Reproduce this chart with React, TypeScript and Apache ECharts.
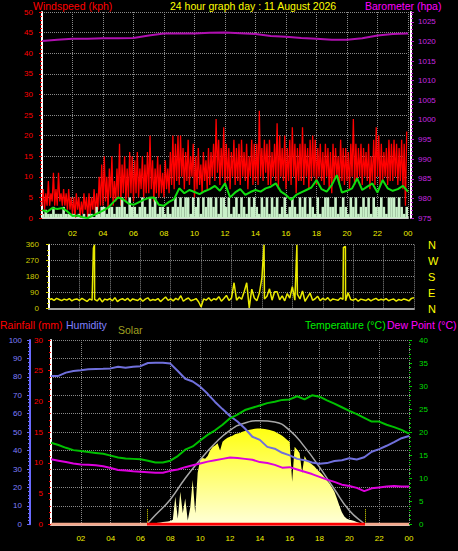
import React, { useEffect, useRef } from 'react';
import * as echarts from 'echarts';

const FONT = '"Liberation Sans", Arial, sans-serif';

// ---- Panel 1: wind (10-min highs / lows of the gust trace) & barometer (hourly) ----
const windGustHigh = [
  7, 6, 9, 6, 11, 7, 11, 6, 7, 6, 7, 5,
  5, 6, 5, 4, 6, 5,
  6, 5, 7, 6, 10, 13,
  15, 10, 12, 15, 9, 12,
  18, 13, 15, 12, 16, 15,
  14, 16, 12, 15, 13, 16,
  20, 14, 12, 15, 13, 11,
  14, 12, 16, 20, 18, 20,
  20, 17, 16, 19, 15, 18,
  15, 17, 13, 16, 14, 17,
  16, 18, 24, 19, 17, 22,
  18, 17, 16, 19, 17, 18,
  19, 16, 18, 15, 19, 18,
  18, 26, 17, 19, 18, 19,
  16, 18, 23, 20, 17, 20,
  17, 19, 22, 18, 17, 18,
  22, 18, 17, 19, 20, 19,
  17, 18, 16, 18, 17, 16,
  18, 17, 15, 19, 17, 17,
  16, 18, 24, 18, 17, 18,
  17, 16, 18, 15, 19, 22,
  20, 18, 16, 17, 19, 18,
  19, 18, 17, 19, 18, 21,
];
const windGustLow = [
  3, 2, 3, 3, 4, 3, 3, 4, 3, 3, 2, 2,
  1, 0, 2, 0, 1, 2,
  0, 1, 2, 1, 2, 3,
  3, 4, 2, 5, 3, 4,
  5, 3, 6, 4, 5, 6,
  4, 6, 5, 7, 5, 6,
  6, 7, 4, 6, 5, 6,
  5, 7, 6, 8, 7, 9,
  8, 10, 7, 9, 8, 10,
  5, 7, 8, 6, 9, 7,
  8, 10, 9, 11, 8, 10,
  8, 9, 7, 10, 8, 9,
  8, 10, 9, 7, 10, 8,
  9, 8, 10, 9, 11, 8,
  8, 10, 9, 7, 10, 9,
  7, 9, 8, 10, 6, 9,
  9, 8, 10, 7, 9, 10,
  8, 10, 9, 8, 10, 7,
  6, 9, 10, 8, 9, 8,
  9, 7, 10, 8, 9, 10,
  8, 10, 9, 7, 9, 8,
  10, 8, 9, 10, 8, 9,
  9, 10, 8, 9, 7, 3,
];
const windSpeed = [
  1, 2, 1, 1, 2.7, 1, 1, 1, 2.7, 1, 1, 1,
  1, 0, 1, 0, 1, 0,
  1, 1, 0, 2.7, 1, 2.7,
  2.7, 1, 2.7, 2.7, 1, 2.7,
  2.7, 5, 2.7, 1, 5, 2.7,
  2.7, 1, 2.7, 5, 2.7, 1,
  5, 2.7, 5, 1, 2.7, 2.7,
  1, 2.7, 1, 2.7, 5, 2.7,
  5, 2.7, 5, 5, 1, 5,
  2.7, 5, 1, 5, 2.7, 5,
  5, 2.7, 5, 1, 5, 5,
  2.7, 5, 1, 2.7, 5, 1,
  5, 2.7, 1, 5, 2.7, 5,
  2.7, 1, 5, 2.7, 5, 1,
  5, 2.7, 5, 1, 2.7, 5,
  1, 2.7, 5, 2.7, 1, 5,
  2.7, 5, 1, 5, 2.7, 1,
  5, 1, 2.7, 5, 5, 2.7,
  2.7, 5, 1, 2.7, 5, 2.7,
  1, 5, 2.7, 5, 1, 2.7,
  5, 2.7, 5, 1, 5, 2.7,
  2.7, 5, 2.7, 1, 5, 5,
  5, 2.7, 5, 2.7, 1, 2.7,
];
// 20-minute average wind
const windAvg = [
  1.9, 1.5, 2.4, 2.2, 2.4, 1.6, 0.5, 0.6, 0.2, 0, 0.6, 1.2,
  1.8, 2.5, 3.8, 5.0, 4.5, 3.5, 3.2, 3.8, 4.4, 4.9, 5.0, 3.2,
  3.0, 3.9, 4.6, 7.2, 6.0, 6.8, 6.3, 5.8, 6.5, 7.0, 7.8, 6.6,
  8.4, 5.0, 6.2, 7.0, 5.6, 6.3, 6.8, 6.4, 7.2, 7.6, 8.4, 6.4,
  5.6, 4.4, 5.6, 6.2, 6.8, 7.4, 9.2, 7.0, 6.4, 8.0, 10.4, 6.2,
  6.6, 7.2, 9.6, 6.8, 7.6, 8.4, 6.2, 9.2, 7.2, 6.6, 7.0, 7.8,
  6.4,
];
const baroHourly = [
  1020.1, 1020.4, 1020.7, 1020.7, 1020.8, 1020.8, 1020.9, 1021.5, 1022.0, 1022.0,
  1022.0, 1022.2, 1022.3, 1022.1, 1021.9, 1021.4, 1021.2, 1020.9, 1020.7, 1020.4,
  1020.4, 1020.8, 1021.5, 1021.9, 1022.0,
];

// ---- Panel 2: wind direction (10-min) plus short spikes ----
const windDir = [
  50, 56, 47, 58, 52, 45,
  54, 48, 57, 44, 52, 55,
  46, 58, 50, 41, 55, 48,
  52, 44, 60, 38, 54, 49,
  57, 45, 62, 40, 51, 56,
  47, 59, 43, 55, 50, 46,
  58, 42, 54, 61, 45, 52,
  48, 57, 40, 53, 66, 47,
  55, 44, 58, 49, 73, 42,
  53, 60, 45, 50, 57, 39,
  10, 55, 48, 62, 44, 56,
  50, 68, 42, 57, 75, 46,
  60, 146, 48, 66, 53, 95,
  146, 5, 110, 60, 45, 88,
  174, 55, 70, 112, 48, 95,
  95, 50, 72, 44, 85, 60,
  124, 48, 80, 55, 100, 42,
  65, 88, 47, 56, 70, 45,
  58, 49, 62, 44, 55, 51,
  47, 60, 53, 45, 90, 52,
  48, 56, 42, 54, 50, 46,
  55, 44, 52, 58, 47, 53,
  49, 57, 45, 51, 54, 43,
  52, 47, 55, 50, 44, 58,
  62,
];
const dirSpikes: [number, number][] = [
  [2.92, 340], [2.99, 360], [14.14, 360], [16.3, 360], [19.36, 345], [19.49, 350],
];
const compass: Record<number, string> = { 0: 'N', 90: 'E', 180: 'S', 270: 'W', 360: 'N' };

// ---- Panel 3: half-hourly temperature / dew point / humidity ----
const humidity = [
  80.5, 80.5, 82.3, 83.2, 83.6, 84.1, 84.3, 84.4, 84.6, 85.5, 85.0, 85.5, 85.8,
  87.5, 87.7, 87.7, 87.2, 83.2, 79.0, 77.5, 74.7, 70.8, 66.4, 62.5, 58.8,
  55.8, 52.0, 47.5, 45.8, 42.0, 41.0, 38.8, 37.4, 35.5, 34.8, 33.5, 32.8,
  33.2, 34.3, 34.8, 35.8, 35.2, 36.4, 39.4, 40.8, 42.6, 44.6, 46.7, 47.9,
];
const temperature = [
  17.7, 17.2, 16.6, 16.1, 15.9, 15.7, 15.5, 15.3, 14.9, 14.5, 14.3, 14.2, 14.1,
  13.8, 13.4, 13.4, 13.8, 14.8, 16.2, 16.9, 18.2, 19.4, 20.4, 21.6, 23.0,
  23.8, 24.8, 25.3, 25.8, 26.3, 26.6, 27.0, 27.1, 27.8, 27.1, 28.0, 27.7,
  26.9, 26.2, 25.4, 24.6, 23.9, 23.1, 22.3, 22.3, 21.6, 21.1, 20.5, 19.7,
];
const dewPoint = [
  14.1, 13.8, 13.5, 13.2, 13.0, 12.9, 12.8, 12.6, 12.2, 11.8, 11.7, 11.5, 11.4,
  11.3, 11.2, 11.2, 11.6, 11.9, 12.4, 12.8, 13.2, 13.6, 13.9, 14.2, 14.5,
  14.4, 14.2, 14.0, 13.5, 13.3, 12.9, 12.3, 12.4, 11.9, 11.4, 10.9, 10.3,
  9.7, 9.2, 8.6, 8.3, 7.9, 7.2, 7.8, 8.0, 8.2, 8.3, 8.2, 8.2,
];
const rainfall = [0, 0, 0, 0, 0, 0, 0, 0, 0, 0, 0, 0, 0, 0, 0, 0, 0, 0, 0, 0, 0, 0, 0, 0, 0];
// 10-minute solar radiation (W/m²)
const solar = [
  0, 0, 0, 0, 0, 0, 0, 0, 0, 0, 0, 0, 0, 0, 0, 0, 0, 0,
  0, 0, 0, 0, 0, 0, 0, 0, 0, 0, 0, 0, 0, 0, 0, 0, 0, 0,
  0, 0, 0, 2, 4, 5,
  6, 8, 10, 12, 14, 15,
  18, 25, 150, 30, 177, 60,
  140, 20, 90, 240, 60, 280,
  350, 360, 355, 370, 400, 420,
  428, 440, 400, 448, 460, 470,
  475, 480, 488, 492, 496, 502,
  506, 510, 513, 516, 518, 520,
  520, 519, 517, 515, 512, 508,
  503, 496, 488, 480, 470, 458,
  448, 231, 421, 405, 387, 278,
  370, 345, 335, 325, 313, 298,
  285, 272, 255, 238, 222, 200,
  177, 140, 100, 65, 42, 30,
  25, 22, 18, 12, 8, 5,
  3, 0, 0, 0, 0, 0, 0, 0, 0, 0, 0, 0, 0, 0, 0, 0, 0, 0, 0,
];
const solarMaxHours = [6.42, 7, 8, 9, 10, 11, 12, 13, 14, 15, 16, 17, 18, 19, 20, 21, 21.07];
const solarMaxValues = [0, 50, 135, 250, 350, 440, 510, 550, 562, 555, 510, 420, 310, 190, 75, 3, 0];
const sunTimes = [6.42, 21.07];

const hourLabel = (v: number) => (v === 0 ? '' : String(v % 24).padStart(2, '0'));

export default function App() {
  const ref = useRef<HTMLDivElement>(null);
  useEffect(() => {
    if (!ref.current) return;
    const chart = echarts.init(ref.current, undefined, { renderer: 'svg' });
    const dotted = { type: 'dotted' as const, color: '#8a8a8a', width: 1 };
    const yAx = (o: any) => ({
      type: 'value',
      axisLine: { show: true, lineStyle: { color: '#ffffff', width: 2 } },
      axisTick: { show: true, length: 3 },
      minorTick: { show: true, splitNumber: 5, length: 2 },
      splitLine: { show: false },
      axisLabel: { fontSize: 8, fontFamily: FONT, margin: 8 },
      ...o,
    });
    const xAx = (o: any) => ({
      type: 'value',
      min: 0,
      max: 24,
      interval: 2,
      axisTick: { show: false },
      splitLine: { show: true, lineStyle: dotted },
      ...o,
    });

    const dirData = windDir
      .map((v, i) => [i / 6, v] as [number, number])
      .concat(dirSpikes)
      .sort((a, b) => a[0] - b[0]);

    const gustData: [number, number][] = [];
    windGustLow.forEach((lo, i) => {
      gustData.push([i / 6, lo]);
      gustData.push([i / 6 + 1 / 12, windGustHigh[i]]);
    });

    const text = (t: string, x: number, y: number, fill: string) => ({
      type: 'text',
      x,
      y,
      style: { text: t, fill, font: `10.5px ${FONT}`, align: 'left', verticalAlign: 'middle' },
    });

    const option: any = {
      backgroundColor: '#000000',
      animation: false,
      textStyle: { fontFamily: FONT },
      grid: [
        { left: 42, top: 12, width: 366, height: 206 },
        { left: 49, top: 244.7, width: 365, height: 64 },
        { left: 51, top: 340, width: 358, height: 184.3 },
      ],
      xAxis: [
        xAx({
          gridIndex: 0,
          offset: 3,
          axisLine: { show: true, lineStyle: { color: '#d0d0d0', width: 2 } },
          axisLabel: {
            color: '#f0f000', fontSize: 8, fontFamily: FONT, showMinLabel: false, margin: 8, formatter: hourLabel,
          },
        }),
        xAx({
          gridIndex: 1,
          axisLine: { show: true, lineStyle: { color: '#a0a0a0', width: 2 } },
          axisLabel: { show: false },
        }),
        xAx({
          gridIndex: 2,
          offset: 4,
          axisLine: { show: true, lineStyle: { color: '#d0d0d0', width: 2 } },
          axisLabel: {
            color: '#f0f000', fontSize: 8, fontFamily: FONT, showMinLabel: false, margin: 6, formatter: hourLabel,
          },
        }),
      ],
      yAxis: [
        yAx({
          gridIndex: 0, position: 'left', min: 0, max: 50, interval: 5,
          axisTick: { show: true, length: 3, lineStyle: { color: '#ff0000' } },
          minorTick: { show: true, splitNumber: 5, length: 2, lineStyle: { color: '#ff0000' } },
          axisLabel: { color: '#ff0000', fontSize: 8, fontFamily: FONT, margin: 9 },
          splitLine: { show: true, lineStyle: dotted },
        }),
        yAx({
          gridIndex: 0, position: 'right', offset: 3, min: 975, max: 1027.5, interval: 5,
          axisTick: { show: true, length: 3, lineStyle: { color: '#c020d0' } },
          minorTick: { show: true, splitNumber: 5, length: 2, lineStyle: { color: '#c020d0' } },
          axisLabel: {
            color: '#c828e0', fontSize: 8, fontFamily: FONT, margin: 7, showMaxLabel: false,
            formatter: (v: number) => String(v),
          },
        }),
        yAx({
          gridIndex: 1, position: 'left', min: 0, max: 360, interval: 90,
          axisTick: { show: true, length: 3, lineStyle: { color: '#d8d800' } },
          minorTick: { show: true, splitNumber: 3, length: 2, lineStyle: { color: '#d8d800' } },
          axisLabel: { color: '#cccc00', fontSize: 8, fontFamily: FONT, margin: 10 },
          splitLine: { show: true, lineStyle: dotted },
        }),
        {
          type: 'value', gridIndex: 1, position: 'right', min: 0, max: 360, interval: 90,
          axisLine: { show: false }, axisTick: { show: false }, splitLine: { show: false },
          axisLabel: {
            color: '#ffff00', fontSize: 11, fontFamily: FONT, margin: 14,
            formatter: (v: number) => compass[v] ?? '',
          },
        },
        yAx({
          gridIndex: 2, position: 'left', min: 0, max: 30, interval: 5,
          axisTick: { show: true, length: 3, lineStyle: { color: '#ff0000' } },
          minorTick: { show: true, splitNumber: 5, length: 2, lineStyle: { color: '#ff0000' } },
          axisLabel: { color: '#ff0000', fontSize: 8, fontFamily: FONT, margin: 8 },
        }),
        yAx({
          gridIndex: 2, position: 'left', offset: 21, min: 0, max: 100, interval: 10,
          axisLine: { show: true, lineStyle: { color: '#6a6aff', width: 2 } },
          axisTick: { show: true, length: 3, lineStyle: { color: '#6a6aff' } },
          minorTick: { show: true, splitNumber: 5, length: 2, lineStyle: { color: '#6a6aff' } },
          axisLabel: { color: '#7f7fff', fontSize: 8, fontFamily: FONT, margin: 8 },
          splitLine: { show: true, lineStyle: dotted },
        }),
        yAx({
          gridIndex: 2, position: 'right', min: 0, max: 40, interval: 5,
          axisLine: { show: false },
          axisTick: { show: true, length: 3, lineStyle: { color: '#00cc00' } },
          minorTick: { show: true, splitNumber: 5, length: 2, lineStyle: { color: '#00cc00' } },
          axisLabel: { color: '#00dd00', fontSize: 8, fontFamily: FONT, margin: 10 },
        }),
        { type: 'value', gridIndex: 2, min: 0, max: 1000, show: false },
      ],
      visualMap: [
        {
          type: 'piecewise', show: false, seriesIndex: 10, dimension: 0,
          pieces: [
            { lt: sunTimes[0], color: '#f4a88c' },
            { gte: sunTimes[0], lte: sunTimes[1], color: '#ff0000' },
            { gt: sunTimes[1], color: '#f4a88c' },
          ],
        },
      ],
      series: [
        {
          name: 'Gust', type: 'line', xAxisIndex: 0, yAxisIndex: 0, symbol: 'none', z: 2,
          data: gustData,
          lineStyle: { color: '#ff0000', width: 1.3 },
        },
        {
          name: 'Speed', type: 'bar', xAxisIndex: 0, yAxisIndex: 0, z: 3, barWidth: 2.6,
          data: windSpeed.map((v, i) => [i / 6 + 1 / 12, v]),
          itemStyle: { color: '#c8f0c8' },
        },
        {
          name: 'Average', type: 'line', xAxisIndex: 0, yAxisIndex: 0, symbol: 'none', z: 4,
          data: windAvg.map((v, i) => [i / 3, v]),
          lineStyle: { color: '#11dd11', width: 2 },
        },
        {
          name: 'Barometer', type: 'line', xAxisIndex: 0, yAxisIndex: 1, symbol: 'none', z: 5,
          data: baroHourly.map((v, i) => [i, v]),
          lineStyle: { color: '#b010b0', width: 2 },
        },
        {
          name: 'Direction', type: 'line', xAxisIndex: 1, yAxisIndex: 2, symbol: 'none', z: 3,
          data: dirData,
          lineStyle: { color: '#e8e800', width: 1.5 },
        },
        {
          name: 'Solar', type: 'line', xAxisIndex: 2, yAxisIndex: 7, symbol: 'none', z: 1,
          data: solar.map((v, i) => [i / 6, v]),
          lineStyle: { width: 0 },
          areaStyle: {
            opacity: 1,
            color: new echarts.graphic.LinearGradient(0, 0, 0, 1, [
              { offset: 0, color: '#ffff10' },
              { offset: 1, color: '#ffffd8' },
            ]),
          },
          markLine: {
            silent: true, symbol: 'none', label: { show: false },
            lineStyle: { color: '#e8e800', type: 'dotted', width: 1 },
            data: sunTimes.map((t) => [{ coord: [t, 0] }, { coord: [t, 82] }]),
          },
        },
        {
          name: 'Solar max', type: 'line', xAxisIndex: 2, yAxisIndex: 7, symbol: 'none', z: 3, smooth: true,
          data: solarMaxHours.map((h, i) => [h, solarMaxValues[i]]),
          lineStyle: { color: '#a8a8a8', width: 1.5 },
        },
        {
          name: 'Humidity', type: 'line', xAxisIndex: 2, yAxisIndex: 5, symbol: 'none', z: 4,
          data: humidity.map((v, i) => [i / 2, v]),
          lineStyle: { color: '#7070dc', width: 2 },
        },
        {
          name: 'Temperature', type: 'line', xAxisIndex: 2, yAxisIndex: 6, symbol: 'none', z: 4,
          data: temperature.map((v, i) => [i / 2, v]),
          lineStyle: { color: '#00c000', width: 2 },
        },
        {
          name: 'Dew Point', type: 'line', xAxisIndex: 2, yAxisIndex: 6, symbol: 'none', z: 4,
          data: dewPoint.map((v, i) => [i / 2, v]),
          lineStyle: { color: '#dd00dd', width: 2 },
        },
        {
          name: 'Rainfall', type: 'line', xAxisIndex: 2, yAxisIndex: 4, symbol: 'none', z: 5,
          data: rainfall.map((v, i) => [i, v]),
          lineStyle: { width: 3 },
        },
      ],
      graphic: [
        text('Windspeed (kph)', 33, 6, '#ff0000'),
        text('24 hour graph day : 11 August 2026', 170, 6, '#ffff00'),
        text('Barometer (hpa)', 365, 6, '#ff00ff'),
        text('Rainfall (mm)', 0, 325, '#ff0000'),
        text('Humidity', 66, 325, '#8080ff'),
        text('Solar', 118, 330, '#a0a020'),
        text('Temperature (°C)', 305, 325, '#00ee00'),
        text('Dew Point (°C)', 387, 325, '#ff00ff'),
      ],
    };
    chart.setOption(option);
    return () => chart.dispose();
  }, []);
  return (
    <div
      ref={ref}
      style={{ position: 'fixed', left: 0, top: 0, width: 458, height: 551, background: '#000' }}
    />
  );
}
